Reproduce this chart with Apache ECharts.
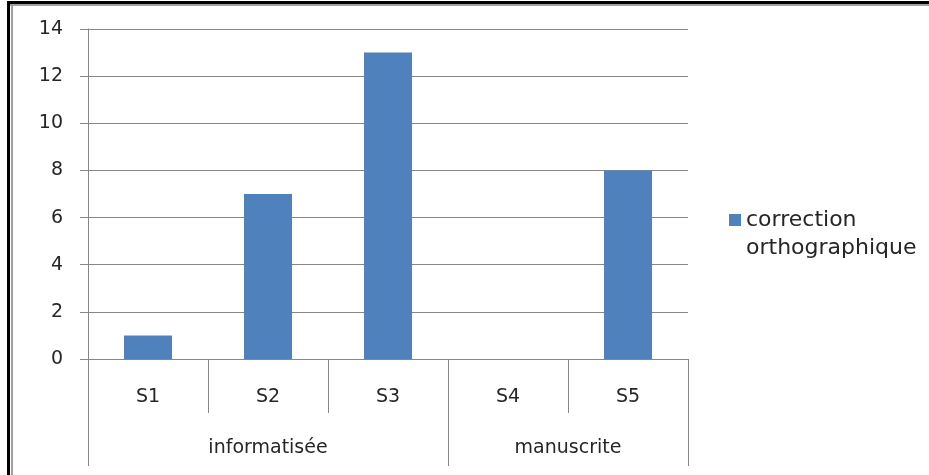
<!DOCTYPE html>
<html>
<head>
<meta charset="utf-8">
<script src="https://cdn.jsdelivr.net/npm/echarts@6/dist/echarts.min.js"></script>
<style>
  html, body { margin: 0; padding: 0; background: #fff; }
  #chart { width: 929px; height: 475px; }
</style>
</head>
<body>
<div id="chart"></div>
<script>
// Sessions and their counts of spelling corrections
const sessions = ['S1', 'S2', 'S3', 'S4', 'S5'];
const corrections = [1, 7, 13, 0, 8];
// Second-level grouping of the sessions
const groupNames = ['informatisée', 'manuscrite'];
const groupSizes = [3, 2];
const seriesName = 'correction\northographique';
const yTicks = [0, 2, 4, 6, 8, 10, 12, 14];

// Group boundaries and centres in category units
const groupEdges = [0];
groupSizes.forEach(n => groupEdges.push(groupEdges[groupEdges.length - 1] + n));
const groupCenters = groupSizes.map((n, i) => groupEdges[i] + n / 2);

const FONT = 'DejaVu Sans';
const TEXT = '#262626';
const LINE = '#878787';

const chart = echarts.init(document.getElementById('chart'), null, { renderer: 'canvas' });

chart.setOption({
  backgroundColor: '#ffffff',
  animation: false,
  grid: { left: 88, right: 241, top: 29, bottom: 116, containLabel: false },
  legend: {
    show: true,
    left: 724,
    top: 173,
    orient: 'vertical',
    itemWidth: 12,
    itemHeight: 12,
    itemGap: 0,
    icon: 'rect',
    // a leading blank line keeps the marker level with the first line of the name
    formatter: name => '\n' + name,
    textStyle: {
      fontFamily: FONT,
      fontSize: 22,
      color: TEXT,
      lineHeight: 28
    },
    data: [seriesName]
  },
  xAxis: [
    {
      type: 'category',
      data: sessions,
      position: 'bottom',
      axisLine: { show: true, lineStyle: { color: LINE, width: 1 } },
      axisTick: { show: true, interval: 0, length: 54, alignWithLabel: false, lineStyle: { color: LINE } },
      axisLabel: { show: true, interval: 0, margin: 29, fontFamily: FONT, fontSize: 19, color: TEXT },
      splitLine: { show: false }
    },
    {
      type: 'value',
      position: 'bottom',
      offset: 0,
      min: 0,
      max: sessions.length,
      axisLine: { show: false },
      axisTick: { show: true, length: 107, customValues: groupEdges, lineStyle: { color: LINE } },
      axisLabel: {
        show: true,
        margin: 80,
        customValues: groupCenters,
        fontFamily: FONT,
        fontSize: 19,
        color: TEXT,
        formatter: v => {
          const i = groupCenters.findIndex(c => Math.abs(c - v) < 1e-6);
          return i >= 0 ? groupNames[i] : '';
        }
      },
      splitLine: { show: false }
    }
  ],
  yAxis: {
    type: 'value',
    min: yTicks[0],
    max: yTicks[yTicks.length - 1],
    interval: 2,
    axisLine: { show: true, lineStyle: { color: LINE } },
    axisTick: { show: true, length: 8, inside: false, lineStyle: { color: LINE } },
    axisLabel: { margin: 25, fontFamily: FONT, fontSize: 19, color: TEXT },
    splitLine: { show: true, lineStyle: { color: LINE, width: 1 } }
  },
  series: [
    {
      name: seriesName,
      type: 'bar',
      xAxisIndex: 0,
      yAxisIndex: 0,
      data: corrections,
      barWidth: '40%',
      itemStyle: { color: '#4F81BD' }
    }
  ],
  graphic: [
    // page frame: black outer rule with a grey inner rule (top and left)
    { type: 'rect', shape: { x: 7, y: 1, width: 922, height: 3 }, style: { fill: '#000' }, silent: true },
    { type: 'rect', shape: { x: 10, y: 4, width: 919, height: 2 }, style: { fill: '#a0a0a0' }, silent: true },
    { type: 'rect', shape: { x: 7, y: 1, width: 3, height: 474 }, style: { fill: '#000' }, silent: true },
    { type: 'rect', shape: { x: 11, y: 6, width: 2, height: 469 }, style: { fill: '#a0a0a0' }, silent: true }
  ]
});
</script>
</body>
</html>
